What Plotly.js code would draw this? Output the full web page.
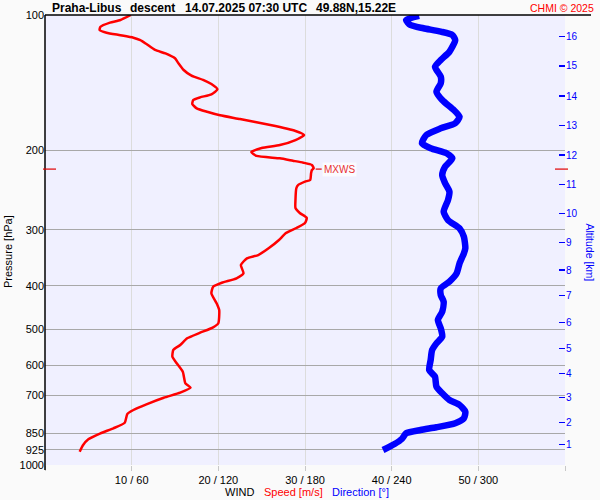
<!DOCTYPE html>
<html>
<head>
<meta charset="utf-8">
<script src="https://cdn.plot.ly/plotly-3.0.1.min.js"></script>
<style>html,body{margin:0;padding:0;background:#fafafa;}#chart{width:600px;height:500px;}</style>
</head>
<body>
<div id="chart"></div>
<script>
// ---- data ----
const pressureTicks = [100, 200, 300, 400, 500, 600, 700, 850, 925, 1000];
const speedTicks = [10, 20, 30, 40, 50];
const dirTicks = [60, 120, 180, 240, 300];
const altKm = [1, 2, 3, 4, 5, 6, 7, 8, 9, 10, 11, 12, 13, 14, 15, 16];
const altP = [899.5, 803.7, 708.7, 625.7, 550.4, 481.8, 420.5, 368.7, 320.6, 275.9, 237.8, 204.7, 176.2, 151.4, 129.8, 111.7];

const speedP = [100, 102.6, 104.0, 106.2, 108.0, 109.5, 110.9, 112.3, 113.7, 116.0,
  119.6, 121.7, 124.8, 128.0, 132.5, 136.4, 139.5, 142.4, 146.3, 150.1,
  152.4, 154.5, 157.7, 161.2, 164.1, 167.1, 170.3, 175.6, 181.0, 184.8,
  189.6, 194.5, 197.5, 201.6, 205.7, 208.2, 210.8, 212.9, 215.4, 219.1,
  221.0, 224.8, 232.6, 234.6, 238.7, 242.7, 257.7, 268.5, 275.4, 282.5,
  289.9, 297.4, 305.1, 316.2, 329.9, 341.5, 347.3, 359.4, 375.0, 384.7,
  393.5, 401.6, 415.4, 437.2, 452.4, 484.2, 494.3, 508.2, 522.9, 541.2,
  555.2, 574.6, 594.3, 620.5, 658.3, 673.3, 690.7, 708.8, 733.2, 754.7,
  770.3, 805.4, 828.8, 850.4, 876.8, 902.8, 934.2];
const speedMs = [9.9, 8.7, 7.5, 6.4, 6.3, 7.1, 8.7, 10.2, 11.0, 11.7,
  12.7, 13.9, 15.0, 15.4, 16.0, 16.9, 18.3, 19.2, 19.9, 19.2,
  17.9, 17.1, 17.0, 17.5, 18.7, 20.2, 22.5, 26.0, 28.9, 29.9,
  28.9, 27.1, 25.0, 23.8, 24.4, 27.1, 28.6, 29.8, 30.8, 31.0,
  30.8, 30.7, 30.6, 30.0, 29.2, 29.0, 28.9, 28.9, 29.4, 30.2,
  30.0, 29.0, 27.8, 27.0, 25.8, 24.6, 23.3, 22.6, 22.9, 22.1,
  20.4, 19.4, 19.2, 19.8, 20.1, 20.0, 19.4, 17.9, 16.4, 15.6,
  14.8, 14.7, 15.2, 15.9, 16.2, 16.8, 15.6, 13.7, 11.7, 10.2,
  9.5, 9.2, 7.9, 6.4, 5.0, 4.4, 4.0];

const dirP = [100.4, 102.6, 105.3, 107.0, 108.9, 110.8, 113.7, 120.7, 125.9, 130.3,
  137.1, 141.8, 148.1, 154.5, 162.6, 168.3, 174.0, 178.6, 184.8, 192.8,
  197.8, 202.9, 208.2, 217.3, 226.8, 236.6, 247.0, 257.7, 273.6, 285.5,
  297.9, 310.9, 329.9, 338.5, 356.3, 375.0, 391.4, 405.0, 419.1, 433.7,
  456.3, 476.2, 496.8, 518.7, 536.6, 555.2, 584.4, 615.0, 636.3, 669.9,
  692.9, 717.1, 735.6, 761.2, 787.3, 807.7, 824.4, 836.0, 850.4, 875.5,
  898.2, 926.1];
const dirDeg = [259, 250, 253, 262, 274, 282, 284, 280, 274, 270,
  274, 274, 271, 275, 283, 287, 284, 274, 264, 261,
  267, 278, 282, 277, 275, 277, 280, 279, 276, 279,
  287, 290, 291, 290, 287, 285, 280, 274, 274, 276,
  275, 272, 274, 275, 271, 268, 267, 266, 270, 271,
  275, 280, 287, 291, 290, 284, 271, 260, 250, 247,
  242, 234];

const mxwsP = 220;
const mxwsSpeed = 31.0;

const titleParts = ["Praha-Libus", "descent", "14.07.2025 07:30 UTC", "49.88N,15.22E"];
const credit = "CHMI © 2025";

// ---- layout helpers (pixel -> paper) ----
const L = 45, R = 565, T = 15, B = 465;
const px = x => (x - L) / (R - L);
const py = y => (B - y) / (B - T);
const FONT = "Liberation Sans, Arial, sans-serif";

const xTickVals = [0].concat(speedTicks, [60]);
const xTickText = [""].concat(speedTicks.map((s, i) => s + " / " + dirTicks[i]), [""]);

const traces = [
  { x: speedMs, y: speedP, type: 'scatter', mode: 'lines', xaxis: 'x', yaxis: 'y',
    line: { color: '#ff0000', width: 2.5, shape: 'spline', smoothing: 0.5 }, hoverinfo: 'skip' },
  { x: dirDeg, y: dirP, type: 'scatter', mode: 'lines', xaxis: 'x2', yaxis: 'y2',
    line: { color: '#0000ff', width: 6.5, shape: 'spline', smoothing: 0.6 }, hoverinfo: 'skip' }
];

const titleX = [50, 128, 182.7, 314];
const annotations = titleParts.map((t, i) => ({
  text: t, xref: 'paper', yref: 'paper', x: px(titleX[i]), y: py(8),
  xanchor: 'left', yanchor: 'middle', showarrow: false,
  font: { family: FONT, size: 12, color: '#000', weight: 'bold' }
}));
annotations.push(
  { text: credit, xref: 'paper', yref: 'paper', x: px(596), y: py(8), xanchor: 'right', yanchor: 'middle',
    showarrow: false, font: { family: FONT, size: 10.5, color: '#ff0000' } },
  { text: 'Pressure [hPa]', xref: 'paper', yref: 'paper', x: px(8), y: py(252), textangle: -90,
    xanchor: 'center', yanchor: 'middle', showarrow: false, font: { family: FONT, size: 11, color: '#000' } },
  { text: 'Altitude [km]', xref: 'paper', yref: 'paper', x: px(589.5), y: py(252), textangle: 90,
    xanchor: 'center', yanchor: 'middle', showarrow: false, font: { family: FONT, size: 10.5, color: '#0000ff' } },
  { text: 'WIND', xref: 'paper', yref: 'paper', x: px(239), y: py(492), xanchor: 'center', yanchor: 'middle',
    showarrow: false, font: { family: FONT, size: 11, color: '#000' } },
  { text: 'Speed [m/s]', xref: 'paper', yref: 'paper', x: px(293), y: py(492), xanchor: 'center', yanchor: 'middle',
    showarrow: false, font: { family: FONT, size: 11, color: '#ff0000' } },
  { text: 'Direction [°]', xref: 'paper', yref: 'paper', x: px(360), y: py(492), xanchor: 'center', yanchor: 'middle',
    showarrow: false, font: { family: FONT, size: 11, color: '#0000ff' } },
  { text: 'MXWS', xref: 'x', yref: 'y', x: mxwsSpeed, y: Math.log10(mxwsP), xanchor: 'left', yanchor: 'middle',
    xshift: 8, showarrow: false, bgcolor: 'rgba(255,255,255,0.7)', borderpad: 1,
    font: { family: FONT, size: 10, color: '#e83030' } }
);

const shapes = [
  { type: 'line', xref: 'paper', yref: 'paper', x0: 0, x1: px(591), y0: 1, y1: 1, line: { color: '#000', width: 1.5 } },
  { type: 'line', xref: 'paper', yref: 'paper', x0: 0, x1: 0, y0: py(470), y1: 1, line: { color: '#000', width: 1.5 } },
  { type: 'line', xref: 'paper', yref: 'y', x0: px(43), x1: px(56), y0: mxwsP, y1: mxwsP, line: { color: '#e00000', width: 1.2 } },
  { type: 'line', xref: 'paper', yref: 'y', x0: px(555), x1: px(568), y0: mxwsP, y1: mxwsP, line: { color: '#e00000', width: 1.2 } },
  { type: 'line', xref: 'x', xsizemode: 'pixel', xanchor: mxwsSpeed, x0: 2, x1: 8, yref: 'y', y0: mxwsP, y1: mxwsP,
    line: { color: '#e00000', width: 1.2 } }
];

const layout = {
  width: 600, height: 500,
  margin: { l: L, r: 600 - R, t: T, b: 500 - B, pad: 0 },
  paper_bgcolor: '#fafafa', plot_bgcolor: '#f0f0ff',
  showlegend: false,
  font: { family: FONT, size: 11, color: '#000' },
  xaxis: { range: [0, 60], autorange: false, tickmode: 'array', tickvals: xTickVals, ticktext: xTickText,
    showgrid: true, gridcolor: '#dcdcdc', gridwidth: 1, zeroline: false, showline: false,
    ticks: 'outside', ticklen: 5, tickcolor: '#c8c8c8', tickwidth: 1,
    tickfont: { family: FONT, size: 11, color: '#000' }, fixedrange: true },
  xaxis2: { range: [0, 360], autorange: false, overlaying: 'x', visible: false, fixedrange: true },
  yaxis: { type: 'log', range: [3, 2], autorange: false, tickmode: 'array', tickvals: pressureTicks,
    ticktext: pressureTicks.map(String), showgrid: true, gridcolor: '#a8a8a8', gridwidth: 1,
    zeroline: false, showline: false, ticks: '', tickfont: { family: FONT, size: 11, color: '#000' }, fixedrange: true },
  yaxis2: { type: 'log', range: [3, 2], autorange: false, overlaying: 'y', side: 'right', anchor: 'x', tickmode: 'array',
    tickvals: altP, ticktext: altKm.map(String), showgrid: false, zeroline: false, showline: false,
    ticks: 'inside', ticklen: 6, tickcolor: '#0000ff', tickwidth: 1.5,
    tickfont: { family: FONT, size: 10, color: '#0000ff' }, fixedrange: true },
  annotations: annotations,
  shapes: shapes
};

Plotly.newPlot('chart', traces, layout, { staticPlot: true, displayModeBar: false });
</script>
</body>
</html>
